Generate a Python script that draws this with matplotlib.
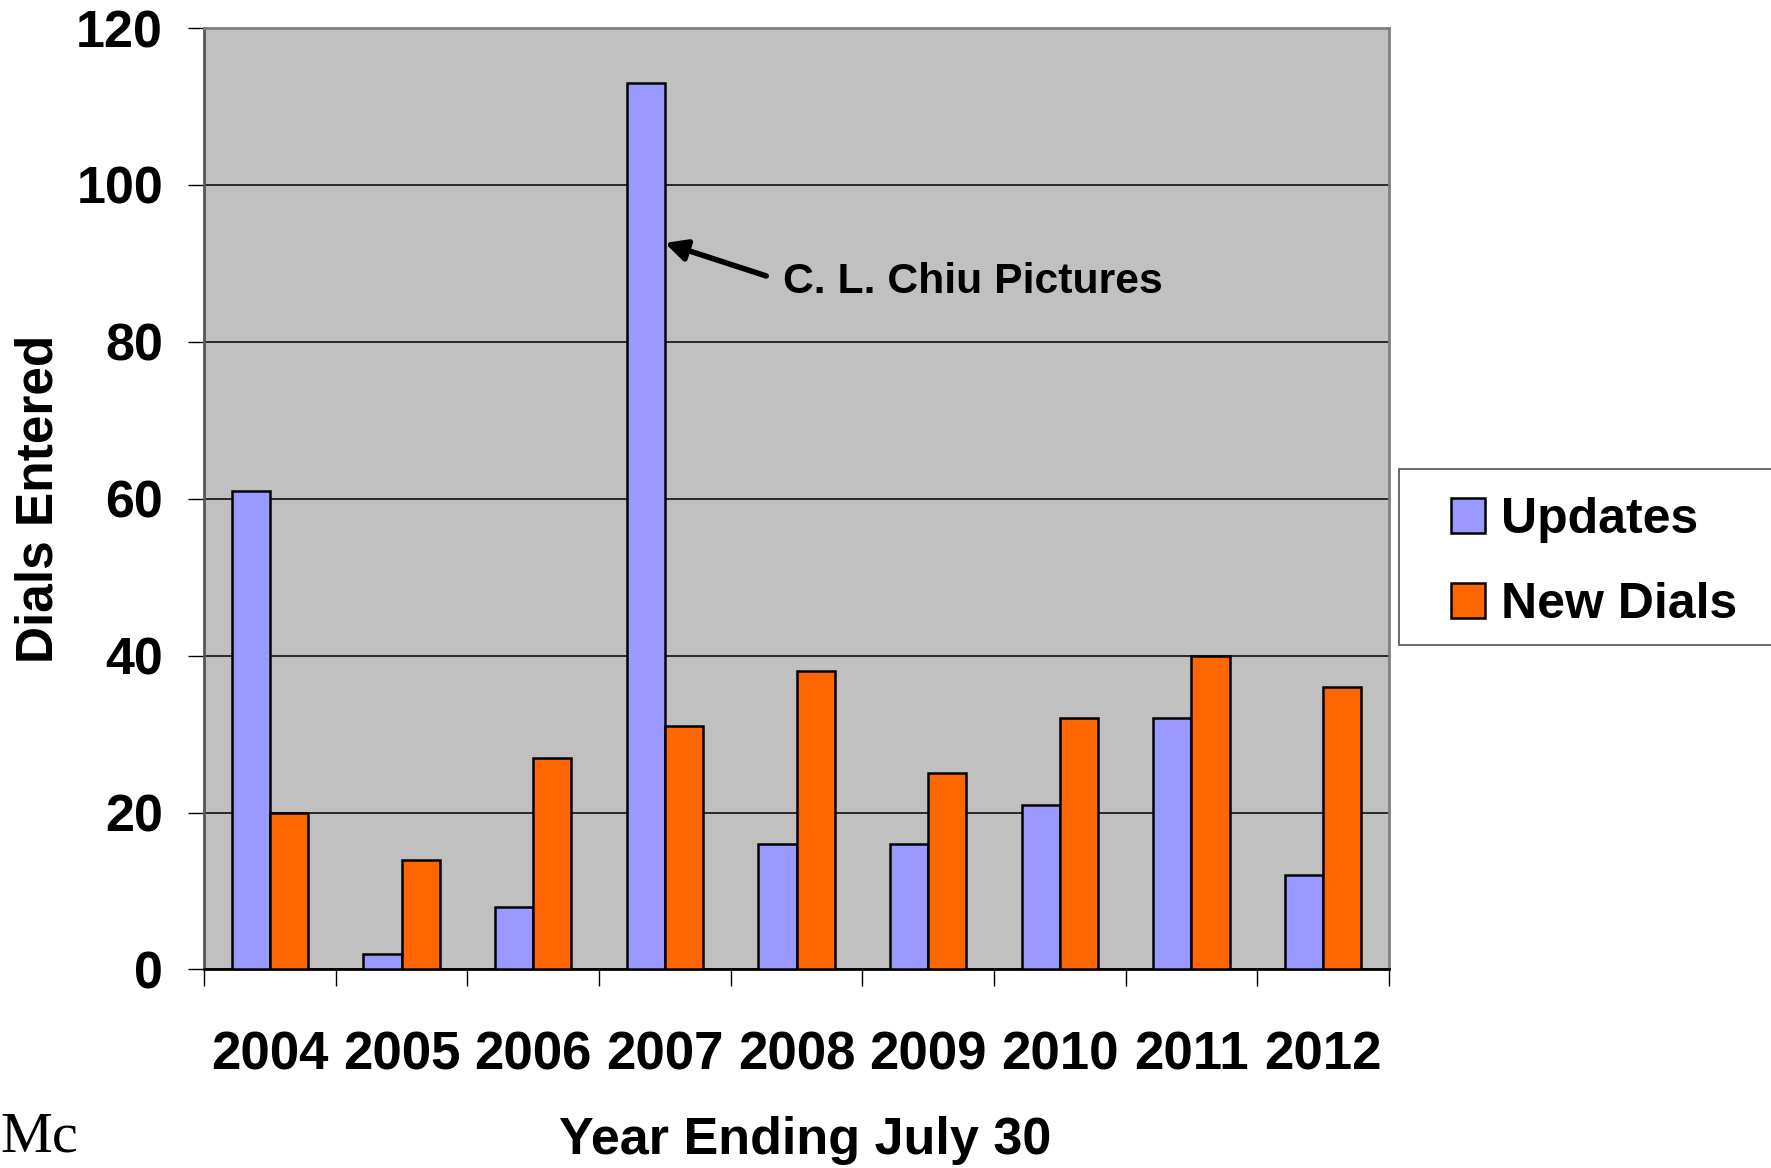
import numpy as np
import matplotlib
matplotlib.use("Agg")
import matplotlib.pyplot as plt
from matplotlib.patches import Rectangle

# Dials entered per year (year ending July 30)
years = ["2004", "2005", "2006", "2007", "2008", "2009", "2010", "2011", "2012"]
updates = [61, 2, 8, 113, 16, 16, 21, 32, 12]
new_dials = [20, 14, 27, 31, 38, 25, 32, 40, 36]
y_ticks = [0, 20, 40, 60, 80, 100, 120]

plt.rcParams["font.family"] = ["Liberation Sans", "DejaVu Sans"]
plt.rcParams["font.weight"] = "bold"

fig = plt.figure(figsize=(17.71, 11.68), dpi=100)
ax = fig.add_axes([0.1152, 0.170, 0.6691, 0.806])
ax.set_facecolor("#C0C0C0")

x = np.arange(len(years))
w = 0.29
ax.bar(x - w / 2, updates, w, color="#9999FF", edgecolor="black", linewidth=1.8,
       label="Updates", zorder=3)
ax.bar(x + w / 2, new_dials, w, color="#FF6600", edgecolor="black", linewidth=1.8,
       label="New Dials", zorder=3)

ax.set_xlim(-0.5, len(years) - 0.5)
ax.set_ylim(0, 120)
ax.set_yticks(y_ticks)
ax.set_yticklabels([str(v) for v in y_ticks], fontsize=37.5, fontweight="bold")
ax.yaxis.grid(True, color="black", linewidth=1.1, zorder=1)
ax.set_axisbelow(True)

# year labels in the middle of each slot, tick marks between slots
ax.set_xticks(x)
ax.set_xticklabels(years, fontsize=38, fontweight="bold")
ax.set_xticks(np.arange(len(years) + 1) - 0.5, minor=True)
ax.tick_params(axis="x", which="major", length=0, pad=44)
ax.tick_params(axis="x", which="minor", length=12, width=1, color="black")
ax.tick_params(axis="y", length=11.5, width=1, pad=18)

for side in ["top", "right"]:
    ax.spines[side].set_color("#808080")
    ax.spines[side].set_linewidth(2)
ax.spines["left"].set_color("#555555")
ax.spines["left"].set_linewidth(2)
ax.spines["bottom"].set_color("black")
ax.spines["bottom"].set_linewidth(2)

ax.set_xlabel("Year Ending July 30", fontsize=37.5, fontweight="bold")
ax.xaxis.set_label_coords(0.5076, -0.156)
ax.set_ylabel("Dials Entered", fontsize=37, fontweight="bold")
ax.yaxis.set_label_coords(-0.119, 0.5)

# pointer to the tall 2007 bar
ax.annotate("", xy=(3.0, 92.6), xytext=(3.77, 88.4),
            arrowprops=dict(arrowstyle="-|>", color="black", lw=4,
                            mutation_scale=32, shrinkA=0, shrinkB=0),
            zorder=5)
ax.text(3.9, 87.6, "C. L. Chiu Pictures", fontsize=30.8, fontweight="bold",
        ha="left", va="center", zorder=5)

# legend box sits at the right edge and runs off the page
fig.add_artist(Rectangle((0.790, 0.4478), 0.23, 0.1507, transform=fig.transFigure,
                         facecolor="white", edgecolor="#505050", linewidth=1.2))
fig.legend(loc="center left", bbox_to_anchor=(0.8195, 0.5185), frameon=False,
           prop={"weight": "bold", "size": 36},
           handlelength=0.68, handleheight=0.68, handletextpad=0.32,
           labelspacing=0.78, borderpad=0, borderaxespad=0)

fig.text(0.0, 0.004, "Mc", fontsize=42, family=["Liberation Serif", "DejaVu Serif"],
         fontweight="normal", ha="left", va="bottom")

fig.savefig("out.png", dpi=100)
